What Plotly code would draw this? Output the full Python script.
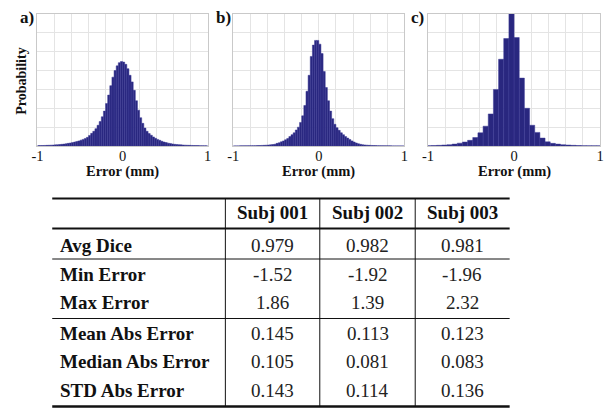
import numpy as np
import plotly.graph_objects as go

W, H = 613, 415

# ---------------- Histogram data (probability, in grid units) ----------------
bin_width_a = 0.025
bin_start_a = -1.0
hist_a = [0.02, 0.02, 0.025, 0.03, 0.035, 0.04, 0.045, 0.05, 0.06, 0.07,
          0.08, 0.09, 0.10, 0.12, 0.14, 0.16, 0.18, 0.21, 0.24, 0.27,
          0.31, 0.35, 0.40, 0.46, 0.56, 0.67, 0.78, 0.92, 1.10, 1.30,
          1.55, 1.85, 2.25, 2.70, 3.20, 3.65, 4.00, 4.25, 4.42, 4.48,
          4.45, 4.33, 4.10, 3.75, 3.40, 2.95, 2.40, 1.90, 1.50, 1.20,
          0.95, 0.78, 0.66, 0.57, 0.48, 0.41, 0.35, 0.30, 0.25, 0.21,
          0.18, 0.15, 0.13, 0.11, 0.09, 0.08, 0.07, 0.06, 0.05, 0.045,
          0.04, 0.035, 0.03, 0.025, 0.02, 0.02, 0.015, 0.015, 0.01, 0.01]

bin_width_b = 0.025
bin_start_b = -1.0
hist_b = [0.005, 0.005, 0.006, 0.007, 0.008, 0.009, 0.010, 0.012, 0.014, 0.016,
          0.019, 0.022, 0.026, 0.031, 0.037, 0.044, 0.053, 0.064, 0.078, 0.095,
          0.14, 0.17, 0.22, 0.27, 0.33, 0.40, 0.50, 0.60, 0.70, 0.85,
          1.00, 1.25, 1.60, 2.15, 2.90, 3.75, 4.75, 5.35, 5.60, 5.60,
          5.40, 4.90, 3.95, 3.10, 2.40, 1.85, 1.45, 1.15, 0.97, 0.83,
          0.70, 0.60, 0.50, 0.42, 0.34, 0.27, 0.21, 0.16, 0.12, 0.09,
          0.07, 0.055, 0.045, 0.036, 0.03, 0.025, 0.02, 0.017, 0.014, 0.012,
          0.010, 0.009, 0.008, 0.007, 0.006, 0.005, 0.005, 0.004, 0.004, 0.003]

bin_width_c = 0.06
bin_start_c = -1.02
hist_c = [0.018, 0.025, 0.035, 0.05, 0.07, 0.10, 0.15, 0.21, 0.30, 0.45,
          0.70, 1.05, 1.70, 3.00, 4.60, 5.70, 7.60,
          5.75, 3.60, 2.00, 1.10, 0.72, 0.42, 0.22, 0.14, 0.10, 0.07,
          0.05, 0.035, 0.025, 0.018, 0.013, 0.010, 0.007]

panel_labels = ["a)", "b)", "c)"]
x_tick_vals = [-1, -0.8, -0.6, -0.4, -0.2, 0, 0.2, 0.4, 0.6, 0.8, 1]
x_tick_text = ["-1", "", "", "", "", "0", "", "", "", "", "1"]
x_title = "Error (mm)"
y_title = "Probability"

# ---------------- Table data ----------------
col_headers = ["Subj 001", "Subj 002", "Subj 003"]
row_labels = ["Avg Dice", "Min Error", "Max Error",
              "Mean Abs Error", "Median Abs Error", "STD Abs Error"]
subj_001 = ["0.979", "-1.52", "1.86", "0.145", "0.105", "0.143"]
subj_002 = ["0.982", "-1.92", "1.39", "0.113", "0.081", "0.114"]
subj_003 = ["0.981", "-1.96", "2.32", "0.123", "0.083", "0.136"]

SERIF = "Liberation Serif, Times New Roman, serif"
BAR_COLOR = "#29277f"
BAR_EDGE = "#3d3a96"
GRID = "#e4e4e4"
FRAME = "#c9c9c9"


def px_x(p):
    return p / W


def px_y(p):
    return 1 - p / H


fig = go.Figure()

panels_px = [(32, 205), (231, 405), (429, 604)]
top_px, bot_px = 14, 146

hists = [(hist_a, bin_width_a, bin_start_a),
         (hist_b, bin_width_b, bin_start_b),
         (hist_c, bin_width_c, bin_start_c)]

for i, ((vals, bw, b0), (x0, x1)) in enumerate(zip(hists, panels_px)):
    n = len(vals)
    centers = b0 + bw * (np.arange(n) + 0.5)
    ax = "" if i == 0 else str(i + 1)
    fig.add_trace(go.Bar(
        x=centers, y=vals, width=bw,
        marker=dict(color=BAR_COLOR, line=dict(color=BAR_EDGE, width=0.5)),
        xaxis="x" + ax, yaxis="y" + ax, showlegend=False, hoverinfo="skip"))
    xa = dict(domain=[px_x(x0), px_x(x1)], range=[-1, 1], anchor="y" + ax,
              tickmode="array", tickvals=x_tick_vals, ticktext=x_tick_text,
              showgrid=True, gridcolor=GRID, gridwidth=1, zeroline=False,
              showline=True, linecolor=FRAME, linewidth=1, mirror=True,
              ticks="", ticklabelstandoff=-3, fixedrange=True,
              tickfont=dict(family=SERIF, size=14.5, color="#111"))
    ya = dict(domain=[px_y(bot_px), px_y(top_px)], range=[0, 7], anchor="x" + ax,
              tickmode="linear", tick0=0, dtick=1, showticklabels=False,
              showgrid=True, gridcolor=GRID, gridwidth=1, zeroline=False,
              showline=True, linecolor=FRAME, linewidth=1, mirror=True, ticks="",
              fixedrange=True)
    fig.layout["xaxis" + ax] = xa
    fig.layout["yaxis" + ax] = ya

annotations = []
label_x = [21, 221, 418]
for lab, lx in zip(panel_labels, label_x):
    annotations.append(dict(x=px_x(lx), y=px_y(17), xref="paper", yref="paper",
                            text="<b>%s</b>" % lab, showarrow=False,
                            font=dict(family=SERIF, size=17, color="#111"),
                            xanchor="center", yanchor="middle"))
for (x0, x1) in panels_px:
    annotations.append(dict(x=px_x((x0 + x1) / 2), y=px_y(171), xref="paper", yref="paper",
                            text="<b>%s</b>" % x_title, showarrow=False,
                            font=dict(family=SERIF, size=14.5, color="#111"),
                            xanchor="center", yanchor="middle"))
annotations.append(dict(x=px_x(15), y=px_y(81), xref="paper", yref="paper",
                        text="<b>%s</b>" % y_title, showarrow=False, textangle=-90,
                        font=dict(family=SERIF, size=14, color="#111"),
                        xanchor="center", yanchor="middle"))

# ---------------- Table ----------------
tbl_left, tbl_right = 47, 512
vlines_x = [223, 319, 416]
col_centers = [271, 367.5, 464]
header_y = 213
row_y = [245, 274, 302, 333, 361.5, 390]
label_x_px = 53
shapes = []
hlines = [(198.5, 2.2), (228.5, 2), (259, 1), (318.5, 1), (406.5, 2.6)]
for yy, lw in hlines:
    shapes.append(dict(type="line", xref="paper", yref="paper",
                       x0=px_x(tbl_left), x1=px_x(tbl_right), y0=px_y(yy), y1=px_y(yy),
                       line=dict(color="#111", width=lw)))
for vx in vlines_x:
    shapes.append(dict(type="line", xref="paper", yref="paper",
                       x0=px_x(vx), x1=px_x(vx), y0=px_y(198.5), y1=px_y(406.5),
                       line=dict(color="#111", width=1)))

TBL_SIZE = 19
for cx, hdr in zip(col_centers, col_headers):
    annotations.append(dict(x=px_x(cx), y=px_y(header_y), xref="paper", yref="paper",
                            text="<b>%s</b>" % hdr, showarrow=False,
                            font=dict(family=SERIF, size=TBL_SIZE, color="#111"),
                            xanchor="center", yanchor="middle"))
for ry, lab in zip(row_y, row_labels):
    annotations.append(dict(x=px_x(label_x_px), y=px_y(ry), xref="paper", yref="paper",
                            text="<b>%s</b>" % lab, showarrow=False,
                            font=dict(family=SERIF, size=TBL_SIZE, color="#111"),
                            xanchor="left", yanchor="middle"))
for cx, col in zip(col_centers, [subj_001, subj_002, subj_003]):
    for ry, v in zip(row_y, col):
        annotations.append(dict(x=px_x(cx), y=px_y(ry), xref="paper", yref="paper",
                                text=v, showarrow=False,
                                font=dict(family=SERIF, size=TBL_SIZE, color="#222"),
                                xanchor="center", yanchor="middle"))

fig.update_layout(width=W, height=H, autosize=False,
                  margin=dict(l=0, r=0, t=0, b=0),
                  paper_bgcolor="white", plot_bgcolor="white",
                  bargap=0, barmode="overlay", hovermode=False,
                  annotations=annotations, shapes=shapes)

fig.write_html("out.html", config={"displayModeBar": False, "staticPlot": True},
               post_script="document.body.style.margin='0px';document.body.style.overflow='hidden';")
